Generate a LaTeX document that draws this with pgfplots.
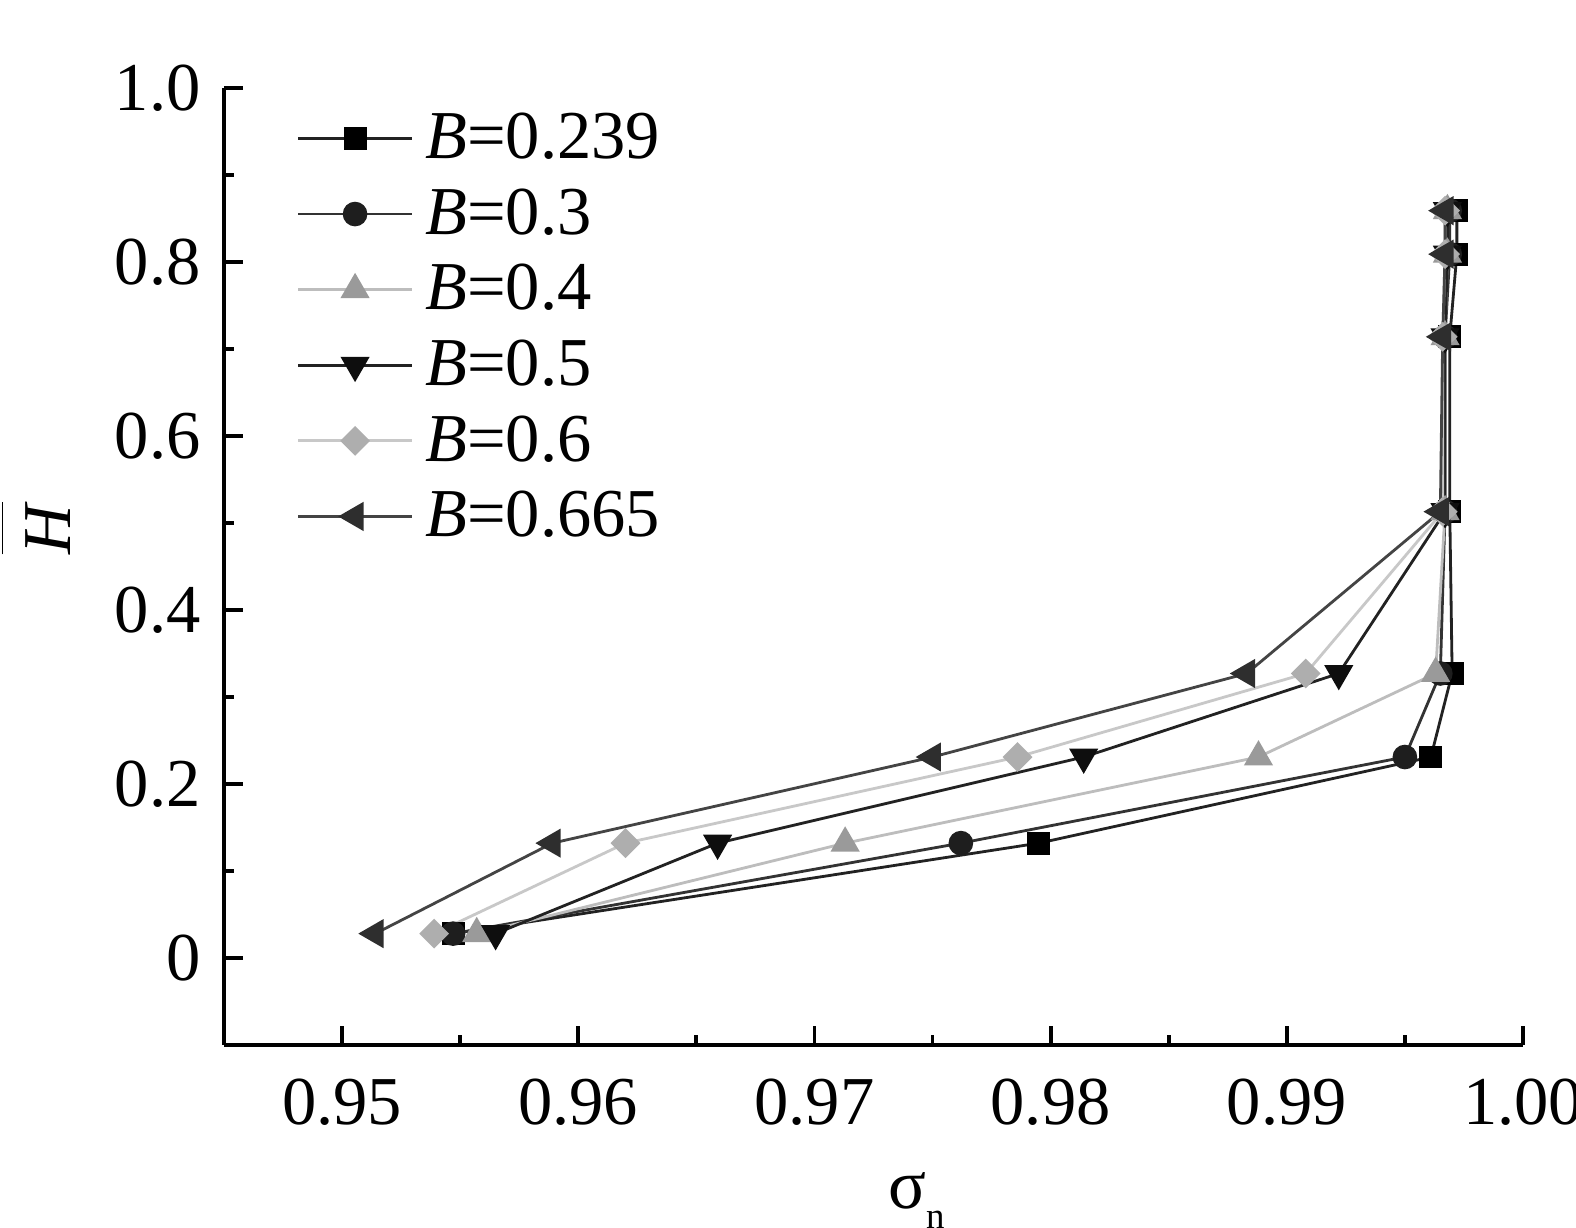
\documentclass[border=0pt]{standalone}
\usepackage{fontspec}
\setmainfont{Liberation Serif}
\usepackage{pgfplots}
\pgfplotsset{compat=1.18}
\definecolor{lA}{HTML}{222222}
\definecolor{mA}{HTML}{000000}
\definecolor{lB}{HTML}{333333}
\definecolor{mB}{HTML}{1E1E1E}
\definecolor{lC}{HTML}{BDBDBD}
\definecolor{mC}{HTML}{9A9A9A}
\definecolor{lD}{HTML}{222222}
\definecolor{mD}{HTML}{0E0E0E}
\definecolor{lE}{HTML}{C8C8C8}
\definecolor{mE}{HTML}{AEAEAE}
\definecolor{lF}{HTML}{444444}
\definecolor{mF}{HTML}{2E2E2E}
\begin{document}
\begin{tikzpicture}
\path[use as bounding box] (-2.24cm,-1.83cm) rectangle (13.52cm,10.45cm);
\begin{axis}[
  scale only axis, width=12.99cm, height=9.57cm,
  at={(0,0)}, anchor=south west,
  xmin=0.945, xmax=1.0, ymin=-0.1, ymax=1.0,
  axis x line*=bottom, axis y line*=left,
  axis line style={line width=1.1pt, black},
  xtick={0.95,0.96,0.97,0.98,0.99,1.0},
  xticklabels={0.95,0.96,0.97,0.98,0.99,1.00},
  minor xtick={0.955,0.965,0.975,0.985,0.995},
  ytick={0,0.2,0.4,0.6,0.8,1.0},
  yticklabels={0,0.2,0.4,0.6,0.8,1.0},
  minor ytick={0.1,0.3,0.5,0.7,0.9},
  tick align=inside,
  major tick length=0.19cm, minor tick length=0.1cm,
  every tick/.style={line width=1.1pt, black},
  ticklabel style={font=\fontsize{19.5}{22}\selectfont},
  xticklabel style={yshift=-0.22cm},
  yticklabel style={xshift=-0.11cm},
  xlabel={σ\raisebox{-0.2cm}{\fontsize{10.5}{11}\selectfont n}},
  xlabel style={at={(axis description cs:0.533,-0.163)}, anchor=center, font=\fontsize{20}{22}\selectfont},
  ylabel={$\overline{\mbox{\textit{H}}\rule{0pt}{0.92em}}$},
  ylabel style={at={(axis description cs:-0.145,0.54)}, anchor=center, font=\fontsize{19.5}{22}\selectfont},
  legend style={draw=none, fill=none, at={(axis description cs:0.0554,0.9875)}, anchor=north west,
    font=\fontsize{19.5}{22}\selectfont, inner sep=0pt, row sep=0pt, column sep=0.12cm,
    nodes={inner sep=0pt}},
  legend cell align=left,
  legend image code/.code={\path[draw=none,fill=none] (0cm,-0.378cm) rectangle (1.14cm,0.378cm);
    \draw[mark repeat=2,mark phase=2,#1] plot coordinates {(0cm,0cm) (0.57cm,0cm) (1.14cm,0cm)};},
]
\addplot[color=lA, line width=0.8pt, mark=square*, mark size=2.85pt, mark options={fill=mA, draw=mA, solid}] coordinates {
(0.9547,0.028) (0.9795,0.132) (0.9961,0.231) (0.9970,0.327) (0.9969,0.513) (0.9969,0.714) (0.9972,0.809) (0.9972,0.859)};
\addlegendentry{\textit{B}=0.239}
\addplot[color=lB, line width=0.8pt, mark=*, mark size=3.1pt, mark options={fill=mB, draw=mB, solid}] coordinates {
(0.9547,0.028) (0.9762,0.132) (0.9950,0.231) (0.9965,0.327) (0.9967,0.513) (0.9967,0.714) (0.9969,0.809) (0.9969,0.859)};
\addlegendentry{\textit{B}=0.3}
\addplot[color=lC, line width=0.8pt, mark=triangle*, mark size=4pt, mark options={fill=mC, draw=mC, solid}] coordinates {
(0.9557,0.028) (0.9713,0.132) (0.9888,0.231) (0.9963,0.327) (0.9967,0.513) (0.9967,0.714) (0.9968,0.809) (0.9968,0.859)};
\addlegendentry{\textit{B}=0.4}
\addplot[color=lD, line width=0.8pt, mark=triangle*, mark size=4pt, mark options={fill=mD, draw=mD, solid, rotate=180}] coordinates {
(0.9565,0.028) (0.9659,0.132) (0.9814,0.231) (0.9922,0.327) (0.9967,0.513) (0.9967,0.714) (0.9968,0.809) (0.9968,0.859)};
\addlegendentry{\textit{B}=0.5}
\addplot[color=lE, line width=0.8pt, mark=square*, mark size=2.6pt, mark options={fill=mE, draw=mE, solid, rotate=45}] coordinates {
(0.9539,0.028) (0.9620,0.132) (0.9786,0.231) (0.9908,0.327) (0.9966,0.513) (0.9966,0.714) (0.9967,0.809) (0.9967,0.859)};
\addlegendentry{\textit{B}=0.6}
\addplot[color=lF, line width=0.8pt, mark=triangle*, mark size=4pt, mark options={fill=mF, draw=mF, solid, rotate=90}] coordinates {
(0.9514,0.028) (0.9589,0.132) (0.9750,0.231) (0.9883,0.327) (0.9965,0.513) (0.9966,0.714) (0.9967,0.809) (0.9967,0.859)};
\addlegendentry{\textit{B}=0.665}
\end{axis}
\end{tikzpicture}
\end{document}
